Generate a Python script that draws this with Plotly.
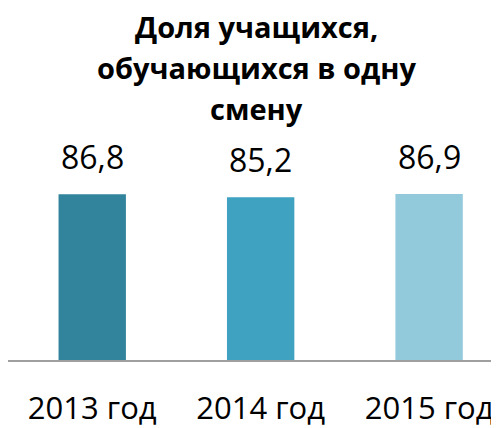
import plotly.graph_objects as go

categories = ["2013 год", "2014 год", "2015 год"]
values = [86.8, 85.2, 86.9]
value_labels = ["86,8", "85,2", "86,9"]
bar_colors = ["#31849B", "#3FA2C0", "#93CADB"]
title_lines = ["Доля учащихся,", "обучающихся в одну", "смену"]

# page body has an 8px margin, so the figure is laid out 8px in from the window edge
OFF = 8
W, H = 499 - OFF, 428 - OFF
ml, mr, mt, mb = 0, 0, 161, 65

fig = go.Figure()
fig.add_trace(go.Bar(
    x=categories, y=values, marker=dict(color=bar_colors, line=dict(width=0)),
    width=0.40, hoverinfo="skip",
))

for c, v, t in zip(categories, values, value_labels):
    fig.add_annotation(x=c, y=v, text=t, showarrow=False, yanchor="bottom",
                       yshift=14, font=dict(family="Open Sans", size=32, color="#000000"))

title_y = [37, 79, 120]  # baselines in window px
for line, yb in zip(title_lines, title_y):
    fig.add_annotation(xref="paper", yref="paper",
                       x=(257 - OFF - ml) / (W - ml - mr),
                       y=(H - mb - (yb - OFF)) / (H - mt - mb),
                       text="<b>" + line + "</b>", showarrow=False,
                       xanchor="center", yanchor="bottom",
                       yshift=-9,
                       font=dict(family="Open Sans", size=29, color="#000000"))

fig.update_layout(
    width=W, height=H,
    margin=dict(l=ml, r=mr, t=mt, b=mb),
    paper_bgcolor="white", plot_bgcolor="white",
    showlegend=False,
)
fig.update_xaxes(
    range=[-0.5, 2.415], showline=True, linecolor="#A0A0A0", linewidth=2,
    showgrid=False, ticks="", zeroline=False,
    tickfont=dict(family="Open Sans", size=31, color="#000000"),
    ticklabelstandoff=20,
)
fig.update_yaxes(range=[0, 100], visible=False, showgrid=False, zeroline=False)

fig.write_html("out.html")
